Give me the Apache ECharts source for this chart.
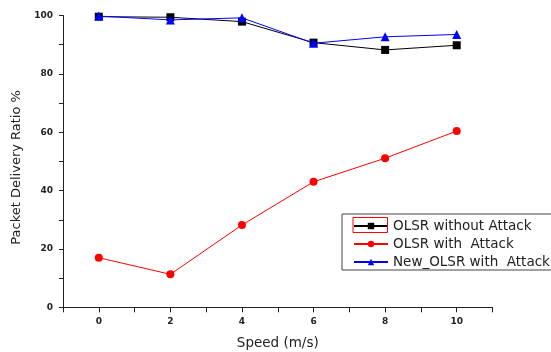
<!DOCTYPE html>
<html>
<head>
<meta charset="utf-8">
<script src="https://cdn.jsdelivr.net/npm/echarts@6/dist/echarts.min.js"></script>
<style>
  html, body { margin: 0; padding: 0; background: #fff; }
  #chart { width: 551px; height: 352px; }
</style>
</head>
<body>
<div id="chart"></div>
<script>
const speeds = [0, 2, 4, 6, 8, 10];
const olsrNoAttack = [99.6, 99.4, 97.9, 90.7, 88.2, 89.8];
const olsrAttack = [17.0, 11.3, 28.2, 43.0, 51.1, 60.4];
const newOlsrAttack = [99.8, 98.5, 99.2, 90.5, 92.7, 93.5];
const seriesNames = ["OLSR without Attack", "OLSR with  Attack", "New_OLSR with  Attack"];

const chart = echarts.init(document.getElementById("chart"));
const font = "DejaVu Sans, sans-serif";

function pairs(vals) {
  return speeds.map((s, i) => [s, vals[i]]);
}

chart.setOption({
  animation: false,
  grid: {
    left: 63, right: 58.5, top: 15.5, bottom: 44.7,
    containLabel: false, outerBoundsMode: "none"
  },
  xAxis: {
    type: "value",
    min: -1, max: 11, interval: 1,
    name: "Speed (m/s)",
    nameLocation: "center",
    nameGap: 29,
    nameTextStyle: { fontFamily: font, fontSize: 13.5, color: "#222" },
    axisLine: { onZero: false, lineStyle: { color: "#222", width: 1 } },
    axisTick: { show: true, length: 5, lineStyle: { color: "#222" } },
    axisLabel: {
      fontFamily: font, fontSize: 9, color: "#222", fontWeight: "bold", margin: 10,
      formatter: (v) => (v >= 0 && v % 2 === 0 ? String(v) : "")
    },
    splitLine: { show: false }
  },
  yAxis: {
    type: "value",
    min: 0, max: 100, interval: 10,
    name: "Packet Delivery Ratio %",
    nameLocation: "center",
    nameGap: 40,
    nameTextStyle: { fontFamily: font, fontSize: 13, color: "#222", padding: [0, 0, 0, -12] },
    axisLine: { show: true, onZero: false, lineStyle: { color: "#222", width: 1 } },
    axisTick: { show: true, length: 4, lineStyle: { color: "#222" } },
    axisLabel: {
      fontFamily: font, fontSize: 9, color: "#222", fontWeight: "bold", margin: 10,
      formatter: (v) => (v % 20 === 0 ? String(v) : "")
    },
    splitLine: { show: false }
  },
  legend: {
    left: 342, top: 214,
    orient: "vertical",
    itemWidth: 34, itemHeight: 8, itemGap: 4,
    padding: [5, 80, 1, 11],
    borderColor: "#444", borderWidth: 1,
    textStyle: { fontFamily: font, fontSize: 13.5, lineHeight: 12, color: "#222" },
    data: seriesNames
  },
  graphic: [{
    type: "rect",
    shape: { x: 353, y: 217.5, width: 34.5, height: 15 },
    style: { fill: "none", stroke: "#ff0000", lineWidth: 1 },
    z: 100
  }],
  series: [
    {
      name: seriesNames[0], type: "line", data: pairs(olsrNoAttack),
      symbol: "rect", symbolSize: 8,
      lineStyle: { color: "#000", width: 1 },
      itemStyle: { color: "#000" }, z: 2
    },
    {
      name: seriesNames[1], type: "line", data: pairs(olsrAttack),
      symbol: "circle", symbolSize: 8,
      lineStyle: { color: "#ff0000", width: 1 },
      itemStyle: { color: "#ff0000" }, z: 3
    },
    {
      name: seriesNames[2], type: "line", data: pairs(newOlsrAttack),
      symbol: "triangle", symbolSize: 9,
      lineStyle: { color: "#0000ff", width: 1 },
      itemStyle: { color: "#0000ff" }, z: 4
    }
  ]
});
</script>
</body>
</html>
